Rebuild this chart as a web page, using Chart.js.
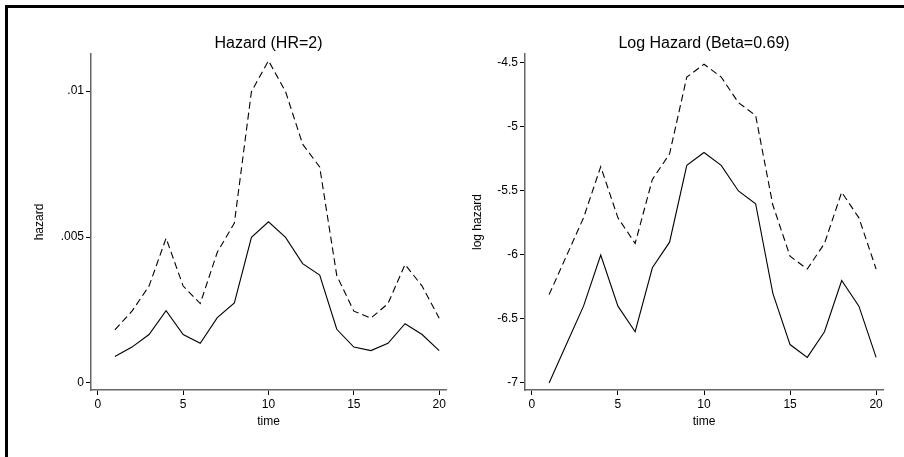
<!DOCTYPE html>
<html>
<head>
<meta charset="utf-8">
<script src="https://cdn.jsdelivr.net/npm/chart.js@4"></script>
<style>
  html, body { margin: 0; padding: 0; background: #fff; }
  body { width: 904px; height: 457px; position: relative; overflow: hidden; }
  .frame { position: absolute; left: 5px; top: 5px; width: 920px; height: 480px; border-left: 3px solid #000; border-top: 3px solid #000; }
  .box { position: absolute; top: 0; width: 452px; height: 457px; }
</style>
</head>
<body>
<div class="frame"></div>
<div class="box" style="left:0"><canvas id="hazardChart"></canvas></div>
<div class="box" style="left:452px"><canvas id="logChart"></canvas></div>
<script>
const time = [1, 2, 3, 4, 5, 6, 7, 8, 9, 10, 11, 12, 13, 14, 15, 16, 17, 18, 19, 20];

// hazard, reference group (solid) and exposed group (dashed)
const hazardBase = [0.00091, 0.00123, 0.00166, 0.00248, 0.00166, 0.00136, 0.00224, 0.00274, 0.00499, 0.00552,
                    0.00499, 0.00409, 0.00370, 0.00184, 0.00123, 0.00111, 0.00136, 0.00203, 0.00166, 0.00111];
const hazardExposed = [0.00182, 0.00246, 0.00332, 0.00496, 0.00332, 0.00272, 0.00448, 0.00548, 0.00998, 0.01104,
                       0.00998, 0.00818, 0.00740, 0.00368, 0.00246, 0.00222, 0.00272, 0.00406, 0.00332, 0.00222];

// log hazard
const logBase = [-7.0, -6.7, -6.4, -6.0, -6.4, -6.6, -6.1, -5.9, -5.3, -5.2,
                 -5.3, -5.5, -5.6, -6.3, -6.7, -6.8, -6.6, -6.2, -6.4, -6.8];
const logExposed = [-6.31, -6.01, -5.71, -5.31, -5.71, -5.91, -5.41, -5.21, -4.61, -4.51,
                    -4.61, -4.81, -4.91, -5.61, -6.01, -6.11, -5.91, -5.51, -5.71, -6.11];

const xTicks = [0, 5, 10, 15, 20];
const hazardTicks = [0, 0.005, 0.01];
const hazardTickLabels = ["0", ".005", ".01"];
const logTicks = [-7, -6.5, -6, -5.5, -5, -4.5];
const logTickLabels = ["-7", "-6.5", "-6", "-5.5", "-5", "-4.5"];

Chart.defaults.font.family = "'Liberation Sans', Arial, sans-serif";
Chart.defaults.color = "#000";

const toPoints = (ys) => ys.map((y, i) => ({ x: time[i], y }));

function makeChart(id, cfg) {
  const ctx = document.getElementById(id);
  return new Chart(ctx, {
    type: "line",
    data: {
      datasets: [
        { data: toPoints(cfg.solid), borderColor: "#000", borderWidth: 1.1, pointRadius: 0, tension: 0 },
        { data: toPoints(cfg.dashed), borderColor: "#000", borderWidth: 1.1, borderDash: [7, 4], pointRadius: 0, tension: 0 },
      ],
    },
    options: {
      responsive: true,
      maintainAspectRatio: false,
      animation: false,
      layout: { padding: { top: 34, right: cfg.padRight, bottom: 26, left: cfg.padLeft } },
      plugins: {
        legend: { display: false },
        tooltip: { enabled: false },
        title: {
          display: true,
          text: cfg.title,
          fullSize: false,
          font: { size: 16, weight: "normal" },
          padding: { top: 0, bottom: 0.8 },
        },
      },
      scales: {
        x: {
          type: "linear",
          min: -0.4,
          max: 20.4,
          afterBuildTicks: (s) => { s.ticks = xTicks.map((v) => ({ value: v })); },
          afterFit: (s) => { s.height = 41; },
          ticks: { font: { size: 12 }, padding: 2, maxRotation: 0 },
          grid: { drawOnChartArea: false, tickLength: 5, tickColor: "#000", tickWidth: 1 },
          border: { color: "#666", width: 1.5 },
          title: { display: true, text: "time", font: { size: 12 }, padding: { top: 0, bottom: 1.8 } },
        },
        y: {
          type: "linear",
          min: cfg.yMin,
          max: cfg.yMax,
          afterBuildTicks: (s) => { s.ticks = cfg.yTicks.map((v) => ({ value: v })); },
          afterFit: (s) => { s.width = cfg.yWidth; },
          ticks: {
            font: { size: 12 },
            padding: 2,
            callback: (v) => {
              const i = cfg.yTicks.findIndex((t) => Math.abs(t - v) < 1e-9);
              return i >= 0 ? cfg.yLabels[i] : "";
            },
          },
          grid: { drawOnChartArea: false, tickLength: 5, tickColor: "#000", tickWidth: 1 },
          border: { color: "#666", width: 1.5 },
          title: { display: true, text: cfg.yTitle, font: { size: 12 }, padding: { top: cfg.yTitlePad, bottom: 0 } },
        },
      },
    },
  });
}

makeChart("hazardChart", {
  title: "Hazard (HR=2)",
  solid: hazardBase,
  dashed: hazardExposed,
  yMin: -0.00024,
  yMax: 0.01127,
  yTicks: hazardTicks,
  yLabels: hazardTickLabels,
  yTitle: "hazard",
  padLeft: 30,
  padRight: 6,
  yWidth: 61,
  yTitlePad: 2.8,
});

makeChart("logChart", {
  title: "Log Hazard (Beta=0.69)",
  solid: logBase,
  dashed: logExposed,
  yMin: -7.055,
  yMax: -4.43,
  yTicks: logTicks,
  yLabels: logTickLabels,
  yTitle: "log hazard",
  padLeft: 16,
  padRight: 21,
  yWidth: 57,
  yTitlePad: 2.8,
});
</script>
</body>
</html>
